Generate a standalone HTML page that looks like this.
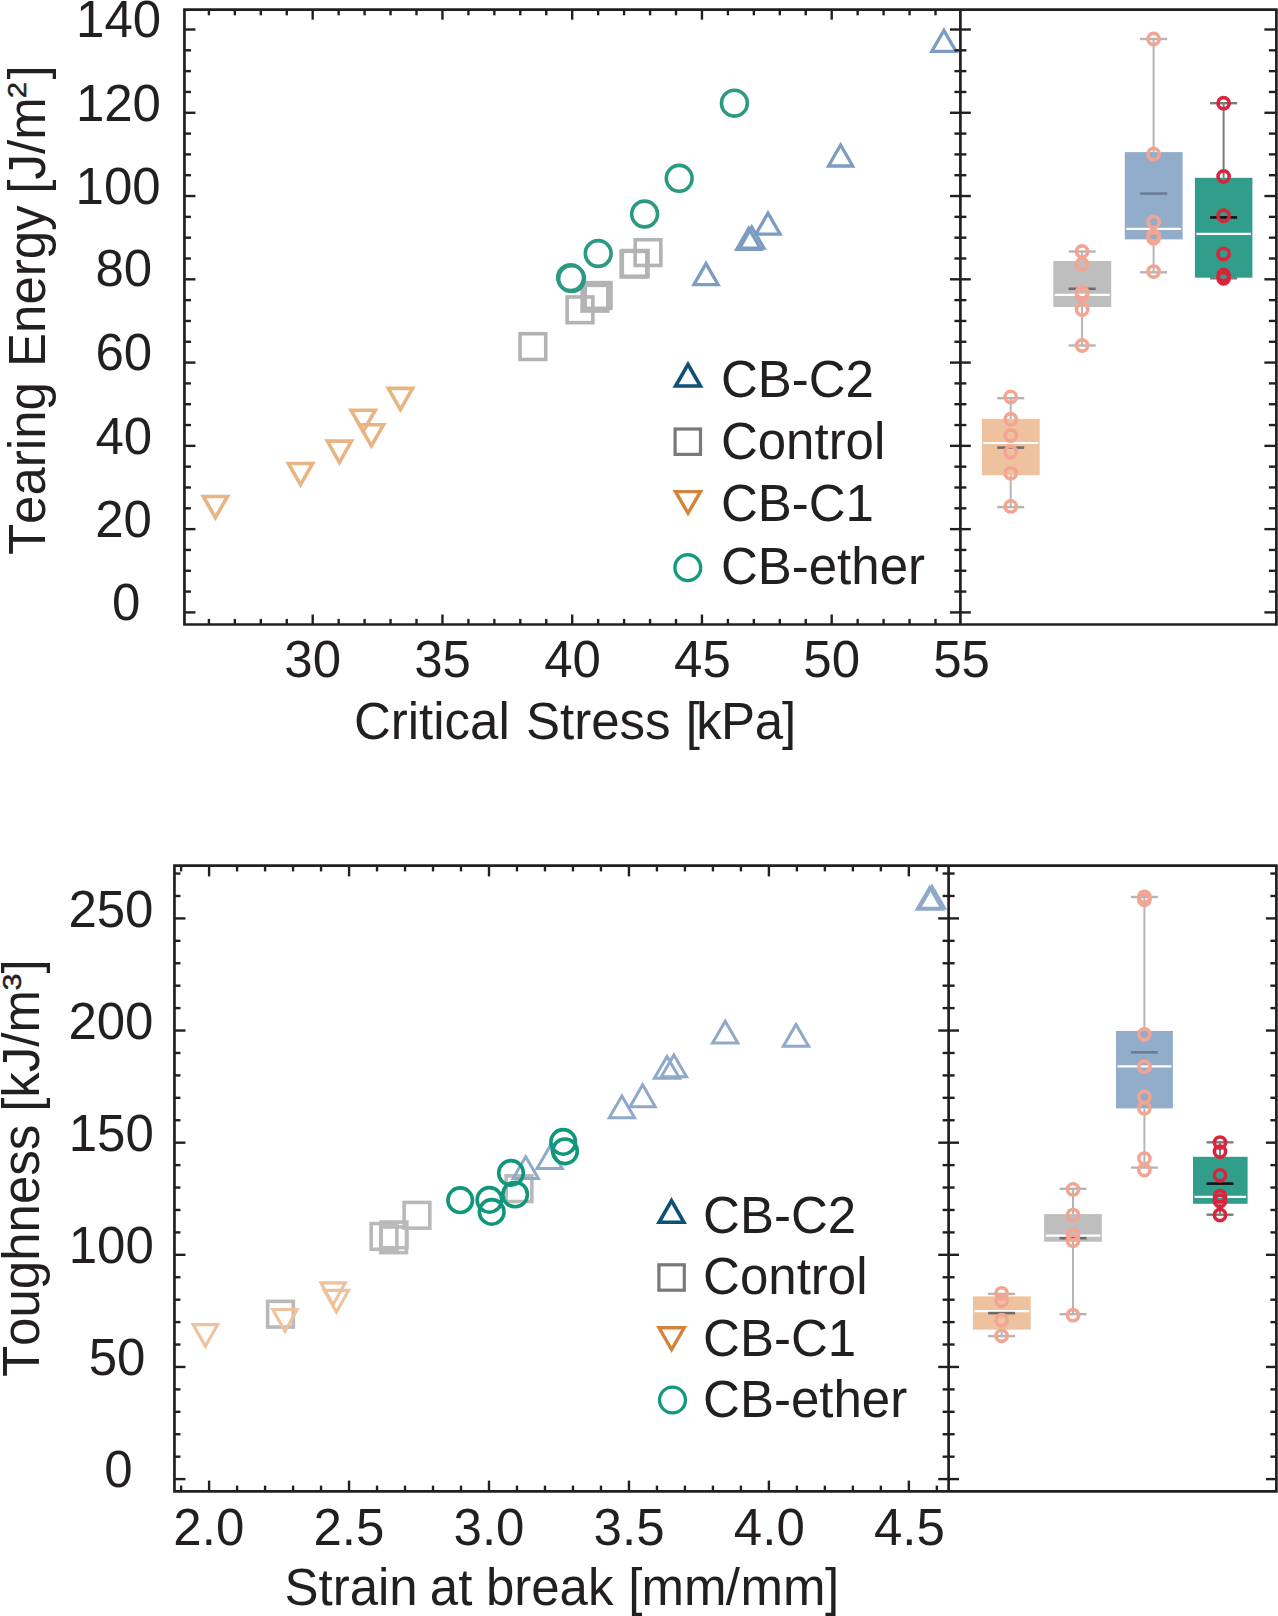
<!DOCTYPE html>
<html><head><meta charset="utf-8"><style>
html,body{margin:0;padding:0;background:#fff;overflow:hidden;width:1278px;height:1616px;}
svg{display:block;}
text{font-family:"Liberation Sans",sans-serif;fill:#231f20;font-kerning:none;}
</style></head><body>
<svg width="1278" height="1616" viewBox="0 0 1278 1616">
<rect width="1278" height="1616" fill="#fff"/>
<line x1="1010.70" y1="398.20" x2="1010.70" y2="418.80" stroke="#b5b5b8" stroke-width="2.0" />
<line x1="1010.70" y1="475.20" x2="1010.70" y2="507.10" stroke="#b5b5b8" stroke-width="2.0" />
<line x1="997.20" y1="398.20" x2="1024.20" y2="398.20" stroke="#b5b5b8" stroke-width="2.4" />
<line x1="997.20" y1="507.10" x2="1024.20" y2="507.10" stroke="#b5b5b8" stroke-width="2.4" />
<rect x="981.90" y="418.80" width="57.80" height="56.40" fill="#eec29e"/>
<line x1="983.40" y1="443.00" x2="1038.20" y2="443.00" stroke="#ffffff" stroke-width="2.2" />
<line x1="997.20" y1="447.60" x2="1024.20" y2="447.60" stroke="#6c6a6b" stroke-width="2.6" />
<circle cx="1010.70" cy="396.90" r="5.60" fill="none" stroke="#f3a593" stroke-width="3.6" stroke-opacity="1"/>
<circle cx="1010.70" cy="419.20" r="5.60" fill="none" stroke="#f3a593" stroke-width="3.6" stroke-opacity="1"/>
<circle cx="1010.70" cy="435.50" r="5.60" fill="none" stroke="#f3a593" stroke-width="3.6" stroke-opacity="1"/>
<circle cx="1010.70" cy="452.00" r="5.60" fill="none" stroke="#f3a593" stroke-width="3.6" stroke-opacity="1"/>
<circle cx="1010.70" cy="473.30" r="5.60" fill="none" stroke="#f3a593" stroke-width="3.6" stroke-opacity="1"/>
<circle cx="1010.70" cy="506.40" r="5.60" fill="none" stroke="#f3a593" stroke-width="3.6" stroke-opacity="1"/>
<line x1="1082.10" y1="251.50" x2="1082.10" y2="261.00" stroke="#b5b5b8" stroke-width="2.0" />
<line x1="1082.10" y1="307.00" x2="1082.10" y2="345.50" stroke="#b5b5b8" stroke-width="2.0" />
<line x1="1068.60" y1="251.50" x2="1095.60" y2="251.50" stroke="#b5b5b8" stroke-width="2.4" />
<line x1="1068.60" y1="345.50" x2="1095.60" y2="345.50" stroke="#b5b5b8" stroke-width="2.4" />
<rect x="1053.30" y="261.00" width="57.90" height="46.00" fill="#bebebe"/>
<line x1="1054.80" y1="294.80" x2="1109.70" y2="294.80" stroke="#ffffff" stroke-width="2.2" />
<line x1="1068.60" y1="288.80" x2="1095.60" y2="288.80" stroke="#6c6a6b" stroke-width="2.6" />
<circle cx="1082.10" cy="251.50" r="5.60" fill="none" stroke="#f3a593" stroke-width="3.6" stroke-opacity="1"/>
<circle cx="1082.10" cy="264.20" r="5.60" fill="none" stroke="#f3a593" stroke-width="3.6" stroke-opacity="1"/>
<circle cx="1082.10" cy="292.50" r="5.60" fill="none" stroke="#f3a593" stroke-width="3.6" stroke-opacity="1"/>
<circle cx="1082.10" cy="295.30" r="5.60" fill="none" stroke="#f3a593" stroke-width="3.6" stroke-opacity="1"/>
<circle cx="1082.10" cy="309.50" r="5.60" fill="none" stroke="#f3a593" stroke-width="3.6" stroke-opacity="1"/>
<circle cx="1082.10" cy="345.50" r="5.60" fill="none" stroke="#f3a593" stroke-width="3.6" stroke-opacity="1"/>
<line x1="1153.60" y1="39.00" x2="1153.60" y2="152.10" stroke="#b5b5b8" stroke-width="2.0" />
<line x1="1153.60" y1="239.40" x2="1153.60" y2="272.30" stroke="#b5b5b8" stroke-width="2.0" />
<line x1="1140.10" y1="39.00" x2="1167.10" y2="39.00" stroke="#b5b5b8" stroke-width="2.4" />
<line x1="1140.10" y1="272.30" x2="1167.10" y2="272.30" stroke="#b5b5b8" stroke-width="2.4" />
<rect x="1124.80" y="152.10" width="57.80" height="87.30" fill="#91adca"/>
<line x1="1126.30" y1="228.90" x2="1181.10" y2="228.90" stroke="#ffffff" stroke-width="2.2" />
<line x1="1140.10" y1="193.60" x2="1167.10" y2="193.60" stroke="#6b7d93" stroke-width="2.6" />
<circle cx="1153.60" cy="39.00" r="5.60" fill="none" stroke="#f3a593" stroke-width="3.6" stroke-opacity="1"/>
<circle cx="1153.60" cy="154.00" r="5.60" fill="none" stroke="#f3a593" stroke-width="3.6" stroke-opacity="1"/>
<circle cx="1153.60" cy="222.00" r="5.60" fill="none" stroke="#f3a593" stroke-width="3.6" stroke-opacity="1"/>
<circle cx="1153.60" cy="235.60" r="5.60" fill="none" stroke="#f3a593" stroke-width="3.6" stroke-opacity="1"/>
<circle cx="1153.60" cy="238.20" r="5.60" fill="none" stroke="#f3a593" stroke-width="3.6" stroke-opacity="1"/>
<circle cx="1153.60" cy="271.60" r="5.60" fill="none" stroke="#f3a593" stroke-width="3.6" stroke-opacity="1"/>
<line x1="1223.60" y1="103.20" x2="1223.60" y2="177.80" stroke="#7b7b7b" stroke-width="2.0" />
<line x1="1223.60" y1="277.70" x2="1223.60" y2="278.30" stroke="#7b7b7b" stroke-width="2.0" />
<line x1="1210.10" y1="103.20" x2="1237.10" y2="103.20" stroke="#7b7b7b" stroke-width="2.4" />
<line x1="1210.10" y1="278.30" x2="1237.10" y2="278.30" stroke="#7b7b7b" stroke-width="2.4" />
<rect x="1194.90" y="177.80" width="57.50" height="99.90" fill="#319d8b"/>
<line x1="1196.40" y1="233.90" x2="1250.90" y2="233.90" stroke="#ffffff" stroke-width="2.2" />
<line x1="1210.10" y1="217.40" x2="1237.10" y2="217.40" stroke="#111111" stroke-width="2.6" />
<circle cx="1223.60" cy="103.20" r="5.60" fill="none" stroke="#d9253b" stroke-width="3.6" stroke-opacity="1"/>
<circle cx="1223.60" cy="176.50" r="5.60" fill="none" stroke="#d9253b" stroke-width="3.6" stroke-opacity="1"/>
<circle cx="1223.60" cy="215.70" r="5.60" fill="none" stroke="#d9253b" stroke-width="3.6" stroke-opacity="1"/>
<circle cx="1223.60" cy="253.90" r="5.60" fill="none" stroke="#d9253b" stroke-width="3.6" stroke-opacity="1"/>
<circle cx="1223.60" cy="275.20" r="5.60" fill="none" stroke="#d9253b" stroke-width="3.6" stroke-opacity="1"/>
<circle cx="1223.60" cy="278.30" r="5.60" fill="none" stroke="#d9253b" stroke-width="3.6" stroke-opacity="1"/>
<path d="M215.40,521.30L230.60,494.70L200.20,494.70Z M215.40,514.04L224.40,498.30L206.40,498.30Z" fill="#e8b482" fill-rule="evenodd" fill-opacity="1"/>
<path d="M300.50,488.30L315.70,461.70L285.30,461.70Z M300.50,481.04L309.50,465.30L291.50,465.30Z" fill="#e8b482" fill-rule="evenodd" fill-opacity="1"/>
<path d="M339.40,465.90L354.60,439.30L324.20,439.30Z M339.40,458.64L348.40,442.90L330.40,442.90Z" fill="#e8b482" fill-rule="evenodd" fill-opacity="1"/>
<path d="M371.40,449.50L386.60,422.90L356.20,422.90Z M371.40,442.24L380.40,426.50L362.40,426.50Z" fill="#e8b482" fill-rule="evenodd" fill-opacity="1"/>
<path d="M363.20,435.10L378.40,408.50L348.00,408.50Z M363.20,427.84L372.20,412.10L354.20,412.10Z" fill="#e8b482" fill-rule="evenodd" fill-opacity="1"/>
<path d="M400.40,413.20L415.60,386.60L385.20,386.60Z M400.40,405.94L409.40,390.20L391.40,390.20Z" fill="#e8b482" fill-rule="evenodd" fill-opacity="1"/>
<rect x="520.05" y="333.75" width="25.70" height="25.70" fill="none" stroke="#b3b3b3" stroke-width="3.6" stroke-opacity="1"/>
<rect x="567.15" y="296.95" width="25.70" height="25.70" fill="none" stroke="#b3b3b3" stroke-width="3.6" stroke-opacity="1"/>
<rect x="582.15" y="285.35" width="25.70" height="25.70" fill="none" stroke="#b3b3b3" stroke-width="3.6" stroke-opacity="1"/>
<rect x="585.25" y="282.65" width="25.70" height="25.70" fill="none" stroke="#b3b3b3" stroke-width="3.6" stroke-opacity="1"/>
<rect x="621.15" y="251.35" width="25.70" height="25.70" fill="none" stroke="#b3b3b3" stroke-width="3.6" stroke-opacity="1"/>
<rect x="622.35" y="250.55" width="25.70" height="25.70" fill="none" stroke="#b3b3b3" stroke-width="3.6" stroke-opacity="1"/>
<rect x="635.15" y="239.75" width="25.70" height="25.70" fill="none" stroke="#b3b3b3" stroke-width="3.6" stroke-opacity="1"/>
<circle cx="734.40" cy="103.20" r="12.90" fill="none" stroke="#2a9a82" stroke-width="3.6" stroke-opacity="1"/>
<circle cx="679.20" cy="178.30" r="12.90" fill="none" stroke="#2a9a82" stroke-width="3.6" stroke-opacity="1"/>
<circle cx="644.60" cy="214.00" r="12.90" fill="none" stroke="#2a9a82" stroke-width="3.6" stroke-opacity="1"/>
<circle cx="598.20" cy="253.50" r="12.90" fill="none" stroke="#2a9a82" stroke-width="3.6" stroke-opacity="1"/>
<circle cx="570.60" cy="277.60" r="12.90" fill="none" stroke="#2a9a82" stroke-width="3.6" stroke-opacity="1"/>
<circle cx="571.50" cy="278.60" r="12.90" fill="none" stroke="#2a9a82" stroke-width="3.6" stroke-opacity="1"/>
<path d="M943.90,27.05L958.85,53.05L928.95,53.05Z M943.90,33.67L953.15,49.75L934.65,49.75Z" fill="#7c9cc1" fill-rule="evenodd" fill-opacity="1"/>
<path d="M840.60,141.65L855.55,167.65L825.65,167.65Z M840.60,148.27L849.85,164.35L831.35,164.35Z" fill="#7c9cc1" fill-rule="evenodd" fill-opacity="1"/>
<path d="M768.00,209.80L782.95,235.80L753.05,235.80Z M768.00,216.42L777.25,232.50L758.75,232.50Z" fill="#7c9cc1" fill-rule="evenodd" fill-opacity="1"/>
<path d="M748.80,225.05L763.75,251.05L733.85,251.05Z M748.80,231.67L758.05,247.75L739.55,247.75Z" fill="#7c9cc1" fill-rule="evenodd" fill-opacity="1"/>
<path d="M751.80,223.75L766.75,249.75L736.85,249.75Z M751.80,230.37L761.05,246.45L742.55,246.45Z" fill="#7c9cc1" fill-rule="evenodd" fill-opacity="1"/>
<path d="M706.00,260.30L720.95,286.30L691.05,286.30Z M706.00,266.92L715.25,283.00L696.75,283.00Z" fill="#7c9cc1" fill-rule="evenodd" fill-opacity="1"/>
<path d="M184.45,9.7H1276.4V624.5H184.45Z" fill="none" stroke="#231f20" stroke-width="2.7"/>
<line x1="960.40" y1="9.70" x2="960.40" y2="624.50" stroke="#231f20" stroke-width="2.7" />
<line x1="184.45" y1="612.40" x2="195.45" y2="612.40" stroke="#231f20" stroke-width="2.4" />
<line x1="950.00" y1="612.40" x2="970.80" y2="612.40" stroke="#231f20" stroke-width="2.4" />
<line x1="1264.40" y1="612.40" x2="1276.40" y2="612.40" stroke="#231f20" stroke-width="2.4" />
<line x1="184.45" y1="591.58" x2="190.95" y2="591.58" stroke="#231f20" stroke-width="2.4" />
<line x1="954.40" y1="591.58" x2="966.40" y2="591.58" stroke="#231f20" stroke-width="2.4" />
<line x1="1268.90" y1="591.58" x2="1276.40" y2="591.58" stroke="#231f20" stroke-width="2.4" />
<line x1="184.45" y1="570.76" x2="190.95" y2="570.76" stroke="#231f20" stroke-width="2.4" />
<line x1="954.40" y1="570.76" x2="966.40" y2="570.76" stroke="#231f20" stroke-width="2.4" />
<line x1="1268.90" y1="570.76" x2="1276.40" y2="570.76" stroke="#231f20" stroke-width="2.4" />
<line x1="184.45" y1="549.95" x2="190.95" y2="549.95" stroke="#231f20" stroke-width="2.4" />
<line x1="954.40" y1="549.95" x2="966.40" y2="549.95" stroke="#231f20" stroke-width="2.4" />
<line x1="1268.90" y1="549.95" x2="1276.40" y2="549.95" stroke="#231f20" stroke-width="2.4" />
<line x1="184.45" y1="529.13" x2="195.45" y2="529.13" stroke="#231f20" stroke-width="2.4" />
<line x1="950.00" y1="529.13" x2="970.80" y2="529.13" stroke="#231f20" stroke-width="2.4" />
<line x1="1264.40" y1="529.13" x2="1276.40" y2="529.13" stroke="#231f20" stroke-width="2.4" />
<line x1="184.45" y1="508.31" x2="190.95" y2="508.31" stroke="#231f20" stroke-width="2.4" />
<line x1="954.40" y1="508.31" x2="966.40" y2="508.31" stroke="#231f20" stroke-width="2.4" />
<line x1="1268.90" y1="508.31" x2="1276.40" y2="508.31" stroke="#231f20" stroke-width="2.4" />
<line x1="184.45" y1="487.49" x2="190.95" y2="487.49" stroke="#231f20" stroke-width="2.4" />
<line x1="954.40" y1="487.49" x2="966.40" y2="487.49" stroke="#231f20" stroke-width="2.4" />
<line x1="1268.90" y1="487.49" x2="1276.40" y2="487.49" stroke="#231f20" stroke-width="2.4" />
<line x1="184.45" y1="466.67" x2="190.95" y2="466.67" stroke="#231f20" stroke-width="2.4" />
<line x1="954.40" y1="466.67" x2="966.40" y2="466.67" stroke="#231f20" stroke-width="2.4" />
<line x1="1268.90" y1="466.67" x2="1276.40" y2="466.67" stroke="#231f20" stroke-width="2.4" />
<line x1="184.45" y1="445.86" x2="195.45" y2="445.86" stroke="#231f20" stroke-width="2.4" />
<line x1="950.00" y1="445.86" x2="970.80" y2="445.86" stroke="#231f20" stroke-width="2.4" />
<line x1="1264.40" y1="445.86" x2="1276.40" y2="445.86" stroke="#231f20" stroke-width="2.4" />
<line x1="184.45" y1="425.04" x2="190.95" y2="425.04" stroke="#231f20" stroke-width="2.4" />
<line x1="954.40" y1="425.04" x2="966.40" y2="425.04" stroke="#231f20" stroke-width="2.4" />
<line x1="1268.90" y1="425.04" x2="1276.40" y2="425.04" stroke="#231f20" stroke-width="2.4" />
<line x1="184.45" y1="404.22" x2="190.95" y2="404.22" stroke="#231f20" stroke-width="2.4" />
<line x1="954.40" y1="404.22" x2="966.40" y2="404.22" stroke="#231f20" stroke-width="2.4" />
<line x1="1268.90" y1="404.22" x2="1276.40" y2="404.22" stroke="#231f20" stroke-width="2.4" />
<line x1="184.45" y1="383.40" x2="190.95" y2="383.40" stroke="#231f20" stroke-width="2.4" />
<line x1="954.40" y1="383.40" x2="966.40" y2="383.40" stroke="#231f20" stroke-width="2.4" />
<line x1="1268.90" y1="383.40" x2="1276.40" y2="383.40" stroke="#231f20" stroke-width="2.4" />
<line x1="184.45" y1="362.58" x2="195.45" y2="362.58" stroke="#231f20" stroke-width="2.4" />
<line x1="950.00" y1="362.58" x2="970.80" y2="362.58" stroke="#231f20" stroke-width="2.4" />
<line x1="1264.40" y1="362.58" x2="1276.40" y2="362.58" stroke="#231f20" stroke-width="2.4" />
<line x1="184.45" y1="341.77" x2="190.95" y2="341.77" stroke="#231f20" stroke-width="2.4" />
<line x1="954.40" y1="341.77" x2="966.40" y2="341.77" stroke="#231f20" stroke-width="2.4" />
<line x1="1268.90" y1="341.77" x2="1276.40" y2="341.77" stroke="#231f20" stroke-width="2.4" />
<line x1="184.45" y1="320.95" x2="190.95" y2="320.95" stroke="#231f20" stroke-width="2.4" />
<line x1="954.40" y1="320.95" x2="966.40" y2="320.95" stroke="#231f20" stroke-width="2.4" />
<line x1="1268.90" y1="320.95" x2="1276.40" y2="320.95" stroke="#231f20" stroke-width="2.4" />
<line x1="184.45" y1="300.13" x2="190.95" y2="300.13" stroke="#231f20" stroke-width="2.4" />
<line x1="954.40" y1="300.13" x2="966.40" y2="300.13" stroke="#231f20" stroke-width="2.4" />
<line x1="1268.90" y1="300.13" x2="1276.40" y2="300.13" stroke="#231f20" stroke-width="2.4" />
<line x1="184.45" y1="279.31" x2="195.45" y2="279.31" stroke="#231f20" stroke-width="2.4" />
<line x1="950.00" y1="279.31" x2="970.80" y2="279.31" stroke="#231f20" stroke-width="2.4" />
<line x1="1264.40" y1="279.31" x2="1276.40" y2="279.31" stroke="#231f20" stroke-width="2.4" />
<line x1="184.45" y1="258.49" x2="190.95" y2="258.49" stroke="#231f20" stroke-width="2.4" />
<line x1="954.40" y1="258.49" x2="966.40" y2="258.49" stroke="#231f20" stroke-width="2.4" />
<line x1="1268.90" y1="258.49" x2="1276.40" y2="258.49" stroke="#231f20" stroke-width="2.4" />
<line x1="184.45" y1="237.68" x2="190.95" y2="237.68" stroke="#231f20" stroke-width="2.4" />
<line x1="954.40" y1="237.68" x2="966.40" y2="237.68" stroke="#231f20" stroke-width="2.4" />
<line x1="1268.90" y1="237.68" x2="1276.40" y2="237.68" stroke="#231f20" stroke-width="2.4" />
<line x1="184.45" y1="216.86" x2="190.95" y2="216.86" stroke="#231f20" stroke-width="2.4" />
<line x1="954.40" y1="216.86" x2="966.40" y2="216.86" stroke="#231f20" stroke-width="2.4" />
<line x1="1268.90" y1="216.86" x2="1276.40" y2="216.86" stroke="#231f20" stroke-width="2.4" />
<line x1="184.45" y1="196.04" x2="195.45" y2="196.04" stroke="#231f20" stroke-width="2.4" />
<line x1="950.00" y1="196.04" x2="970.80" y2="196.04" stroke="#231f20" stroke-width="2.4" />
<line x1="1264.40" y1="196.04" x2="1276.40" y2="196.04" stroke="#231f20" stroke-width="2.4" />
<line x1="184.45" y1="175.22" x2="190.95" y2="175.22" stroke="#231f20" stroke-width="2.4" />
<line x1="954.40" y1="175.22" x2="966.40" y2="175.22" stroke="#231f20" stroke-width="2.4" />
<line x1="1268.90" y1="175.22" x2="1276.40" y2="175.22" stroke="#231f20" stroke-width="2.4" />
<line x1="184.45" y1="154.40" x2="190.95" y2="154.40" stroke="#231f20" stroke-width="2.4" />
<line x1="954.40" y1="154.40" x2="966.40" y2="154.40" stroke="#231f20" stroke-width="2.4" />
<line x1="1268.90" y1="154.40" x2="1276.40" y2="154.40" stroke="#231f20" stroke-width="2.4" />
<line x1="184.45" y1="133.59" x2="190.95" y2="133.59" stroke="#231f20" stroke-width="2.4" />
<line x1="954.40" y1="133.59" x2="966.40" y2="133.59" stroke="#231f20" stroke-width="2.4" />
<line x1="1268.90" y1="133.59" x2="1276.40" y2="133.59" stroke="#231f20" stroke-width="2.4" />
<line x1="184.45" y1="112.77" x2="195.45" y2="112.77" stroke="#231f20" stroke-width="2.4" />
<line x1="950.00" y1="112.77" x2="970.80" y2="112.77" stroke="#231f20" stroke-width="2.4" />
<line x1="1264.40" y1="112.77" x2="1276.40" y2="112.77" stroke="#231f20" stroke-width="2.4" />
<line x1="184.45" y1="91.95" x2="190.95" y2="91.95" stroke="#231f20" stroke-width="2.4" />
<line x1="954.40" y1="91.95" x2="966.40" y2="91.95" stroke="#231f20" stroke-width="2.4" />
<line x1="1268.90" y1="91.95" x2="1276.40" y2="91.95" stroke="#231f20" stroke-width="2.4" />
<line x1="184.45" y1="71.13" x2="190.95" y2="71.13" stroke="#231f20" stroke-width="2.4" />
<line x1="954.40" y1="71.13" x2="966.40" y2="71.13" stroke="#231f20" stroke-width="2.4" />
<line x1="1268.90" y1="71.13" x2="1276.40" y2="71.13" stroke="#231f20" stroke-width="2.4" />
<line x1="184.45" y1="50.31" x2="190.95" y2="50.31" stroke="#231f20" stroke-width="2.4" />
<line x1="954.40" y1="50.31" x2="966.40" y2="50.31" stroke="#231f20" stroke-width="2.4" />
<line x1="1268.90" y1="50.31" x2="1276.40" y2="50.31" stroke="#231f20" stroke-width="2.4" />
<line x1="184.45" y1="29.50" x2="195.45" y2="29.50" stroke="#231f20" stroke-width="2.4" />
<line x1="950.00" y1="29.50" x2="970.80" y2="29.50" stroke="#231f20" stroke-width="2.4" />
<line x1="1264.40" y1="29.50" x2="1276.40" y2="29.50" stroke="#231f20" stroke-width="2.4" />
<line x1="208.90" y1="624.50" x2="208.90" y2="618.90" stroke="#231f20" stroke-width="2.4" />
<line x1="208.90" y1="9.70" x2="208.90" y2="15.30" stroke="#231f20" stroke-width="2.4" />
<line x1="234.85" y1="624.50" x2="234.85" y2="618.90" stroke="#231f20" stroke-width="2.4" />
<line x1="234.85" y1="9.70" x2="234.85" y2="15.30" stroke="#231f20" stroke-width="2.4" />
<line x1="260.80" y1="624.50" x2="260.80" y2="618.90" stroke="#231f20" stroke-width="2.4" />
<line x1="260.80" y1="9.70" x2="260.80" y2="15.30" stroke="#231f20" stroke-width="2.4" />
<line x1="286.75" y1="624.50" x2="286.75" y2="618.90" stroke="#231f20" stroke-width="2.4" />
<line x1="286.75" y1="9.70" x2="286.75" y2="15.30" stroke="#231f20" stroke-width="2.4" />
<line x1="312.70" y1="624.50" x2="312.70" y2="614.50" stroke="#231f20" stroke-width="2.4" />
<line x1="312.70" y1="9.70" x2="312.70" y2="19.70" stroke="#231f20" stroke-width="2.4" />
<line x1="338.65" y1="624.50" x2="338.65" y2="618.90" stroke="#231f20" stroke-width="2.4" />
<line x1="338.65" y1="9.70" x2="338.65" y2="15.30" stroke="#231f20" stroke-width="2.4" />
<line x1="364.60" y1="624.50" x2="364.60" y2="618.90" stroke="#231f20" stroke-width="2.4" />
<line x1="364.60" y1="9.70" x2="364.60" y2="15.30" stroke="#231f20" stroke-width="2.4" />
<line x1="390.55" y1="624.50" x2="390.55" y2="618.90" stroke="#231f20" stroke-width="2.4" />
<line x1="390.55" y1="9.70" x2="390.55" y2="15.30" stroke="#231f20" stroke-width="2.4" />
<line x1="416.50" y1="624.50" x2="416.50" y2="618.90" stroke="#231f20" stroke-width="2.4" />
<line x1="416.50" y1="9.70" x2="416.50" y2="15.30" stroke="#231f20" stroke-width="2.4" />
<line x1="442.45" y1="624.50" x2="442.45" y2="614.50" stroke="#231f20" stroke-width="2.4" />
<line x1="442.45" y1="9.70" x2="442.45" y2="19.70" stroke="#231f20" stroke-width="2.4" />
<line x1="468.40" y1="624.50" x2="468.40" y2="618.90" stroke="#231f20" stroke-width="2.4" />
<line x1="468.40" y1="9.70" x2="468.40" y2="15.30" stroke="#231f20" stroke-width="2.4" />
<line x1="494.35" y1="624.50" x2="494.35" y2="618.90" stroke="#231f20" stroke-width="2.4" />
<line x1="494.35" y1="9.70" x2="494.35" y2="15.30" stroke="#231f20" stroke-width="2.4" />
<line x1="520.30" y1="624.50" x2="520.30" y2="618.90" stroke="#231f20" stroke-width="2.4" />
<line x1="520.30" y1="9.70" x2="520.30" y2="15.30" stroke="#231f20" stroke-width="2.4" />
<line x1="546.25" y1="624.50" x2="546.25" y2="618.90" stroke="#231f20" stroke-width="2.4" />
<line x1="546.25" y1="9.70" x2="546.25" y2="15.30" stroke="#231f20" stroke-width="2.4" />
<line x1="572.20" y1="624.50" x2="572.20" y2="614.50" stroke="#231f20" stroke-width="2.4" />
<line x1="572.20" y1="9.70" x2="572.20" y2="19.70" stroke="#231f20" stroke-width="2.4" />
<line x1="598.15" y1="624.50" x2="598.15" y2="618.90" stroke="#231f20" stroke-width="2.4" />
<line x1="598.15" y1="9.70" x2="598.15" y2="15.30" stroke="#231f20" stroke-width="2.4" />
<line x1="624.10" y1="624.50" x2="624.10" y2="618.90" stroke="#231f20" stroke-width="2.4" />
<line x1="624.10" y1="9.70" x2="624.10" y2="15.30" stroke="#231f20" stroke-width="2.4" />
<line x1="650.05" y1="624.50" x2="650.05" y2="618.90" stroke="#231f20" stroke-width="2.4" />
<line x1="650.05" y1="9.70" x2="650.05" y2="15.30" stroke="#231f20" stroke-width="2.4" />
<line x1="676.00" y1="624.50" x2="676.00" y2="618.90" stroke="#231f20" stroke-width="2.4" />
<line x1="676.00" y1="9.70" x2="676.00" y2="15.30" stroke="#231f20" stroke-width="2.4" />
<line x1="701.95" y1="624.50" x2="701.95" y2="614.50" stroke="#231f20" stroke-width="2.4" />
<line x1="701.95" y1="9.70" x2="701.95" y2="19.70" stroke="#231f20" stroke-width="2.4" />
<line x1="727.90" y1="624.50" x2="727.90" y2="618.90" stroke="#231f20" stroke-width="2.4" />
<line x1="727.90" y1="9.70" x2="727.90" y2="15.30" stroke="#231f20" stroke-width="2.4" />
<line x1="753.85" y1="624.50" x2="753.85" y2="618.90" stroke="#231f20" stroke-width="2.4" />
<line x1="753.85" y1="9.70" x2="753.85" y2="15.30" stroke="#231f20" stroke-width="2.4" />
<line x1="779.80" y1="624.50" x2="779.80" y2="618.90" stroke="#231f20" stroke-width="2.4" />
<line x1="779.80" y1="9.70" x2="779.80" y2="15.30" stroke="#231f20" stroke-width="2.4" />
<line x1="805.75" y1="624.50" x2="805.75" y2="618.90" stroke="#231f20" stroke-width="2.4" />
<line x1="805.75" y1="9.70" x2="805.75" y2="15.30" stroke="#231f20" stroke-width="2.4" />
<line x1="831.70" y1="624.50" x2="831.70" y2="614.50" stroke="#231f20" stroke-width="2.4" />
<line x1="831.70" y1="9.70" x2="831.70" y2="19.70" stroke="#231f20" stroke-width="2.4" />
<line x1="857.65" y1="624.50" x2="857.65" y2="618.90" stroke="#231f20" stroke-width="2.4" />
<line x1="857.65" y1="9.70" x2="857.65" y2="15.30" stroke="#231f20" stroke-width="2.4" />
<line x1="883.60" y1="624.50" x2="883.60" y2="618.90" stroke="#231f20" stroke-width="2.4" />
<line x1="883.60" y1="9.70" x2="883.60" y2="15.30" stroke="#231f20" stroke-width="2.4" />
<line x1="909.55" y1="624.50" x2="909.55" y2="618.90" stroke="#231f20" stroke-width="2.4" />
<line x1="909.55" y1="9.70" x2="909.55" y2="15.30" stroke="#231f20" stroke-width="2.4" />
<line x1="935.50" y1="624.50" x2="935.50" y2="618.90" stroke="#231f20" stroke-width="2.4" />
<line x1="935.50" y1="9.70" x2="935.50" y2="15.30" stroke="#231f20" stroke-width="2.4" />
<text x="76.10" y="36.60" font-size="51">140</text>
<text x="75.90" y="120.60" font-size="51">120</text>
<text x="75.60" y="204.10" font-size="51">100</text>
<text x="95.46" y="286.20" font-size="51">80</text>
<text x="95.46" y="369.80" font-size="51">60</text>
<text x="95.46" y="453.60" font-size="51">40</text>
<text x="95.26" y="536.70" font-size="51">20</text>
<text x="111.93" y="619.70" font-size="51">0</text>
<text x="284.36" y="677.30" font-size="51">30</text>
<text x="414.19" y="677.30" font-size="51">35</text>
<text x="544.25" y="677.30" font-size="51">40</text>
<text x="674.07" y="677.30" font-size="51">45</text>
<text x="803.31" y="677.30" font-size="51">50</text>
<text x="933.14" y="677.30" font-size="51">55</text>
<text x="353.91" y="739.30" font-size="51" >Critical</text>
<text x="525.98" y="739.30" font-size="51" >Stress</text>
<text x="685.76" y="739.30" font-size="51" >[</text>
<text x="696.16" y="739.30" font-size="51" >k</text>
<text x="720.92" y="739.30" font-size="51" >P</text>
<text x="754.83" y="739.30" font-size="51" >a</text>
<text x="781.90" y="739.30" font-size="51" >]</text>
<g transform="translate(45.0,553.9) rotate(-90)"><text x="-1.15" y="0" font-size="51">Tearing</text><text x="186.92" y="0" font-size="51">Energy</text><text x="360.26" y="0" font-size="51">[J/m</text><text x="474.50" y="0" font-size="51">]</text><text transform="scale(1.15,1)" x="396.28" y="-19.3" font-size="25.5" stroke="#231f20" stroke-width="0.5">2</text></g>
<path d="M688.00,360.80L703.50,387.80L672.50,387.80Z M688.00,368.03L697.28,384.20L678.72,384.20Z" fill="#0e5078" fill-rule="evenodd" fill-opacity="1"/>
<rect x="675.10" y="429.00" width="25.40" height="25.40" fill="none" stroke="#79797b" stroke-width="3.2" stroke-opacity="1"/>
<path d="M688.00,516.50L703.50,489.90L672.50,489.90Z M688.00,509.75L697.58,493.30L678.42,493.30Z" fill="#d4843a" fill-rule="evenodd" fill-opacity="1"/>
<circle cx="687.80" cy="567.65" r="12.90" fill="none" stroke="#129a7f" stroke-width="3.3" stroke-opacity="1"/>
<text x="720.91" y="396.90" font-size="51" >CB-C2</text>
<text x="720.91" y="459.40" font-size="51" >Control</text>
<text x="720.91" y="521.00" font-size="51" >CB-C1</text>
<text x="720.91" y="584.30" font-size="51" >CB-ether</text>
<line x1="1001.60" y1="1293.90" x2="1001.60" y2="1296.40" stroke="#b5b5b8" stroke-width="2.0" />
<line x1="1001.60" y1="1329.60" x2="1001.60" y2="1336.10" stroke="#b5b5b8" stroke-width="2.0" />
<line x1="988.10" y1="1293.90" x2="1015.10" y2="1293.90" stroke="#b5b5b8" stroke-width="2.4" />
<line x1="988.10" y1="1336.10" x2="1015.10" y2="1336.10" stroke="#b5b5b8" stroke-width="2.4" />
<rect x="972.90" y="1296.40" width="57.80" height="33.20" fill="#eec29e"/>
<line x1="974.40" y1="1311.20" x2="1029.20" y2="1311.20" stroke="#ffffff" stroke-width="2.2" />
<line x1="988.10" y1="1313.10" x2="1015.10" y2="1313.10" stroke="#6c6a6b" stroke-width="2.6" />
<circle cx="1001.60" cy="1293.30" r="5.60" fill="none" stroke="#f3a593" stroke-width="3.6" stroke-opacity="1"/>
<circle cx="1001.60" cy="1300.80" r="5.60" fill="none" stroke="#f3a593" stroke-width="3.6" stroke-opacity="1"/>
<circle cx="1001.60" cy="1320.20" r="5.60" fill="none" stroke="#f3a593" stroke-width="3.6" stroke-opacity="1"/>
<circle cx="1001.60" cy="1335.80" r="5.60" fill="none" stroke="#f3a593" stroke-width="3.6" stroke-opacity="1"/>
<line x1="1073.00" y1="1188.80" x2="1073.00" y2="1214.10" stroke="#b5b5b8" stroke-width="2.0" />
<line x1="1073.00" y1="1241.70" x2="1073.00" y2="1314.20" stroke="#b5b5b8" stroke-width="2.0" />
<line x1="1059.50" y1="1188.80" x2="1086.50" y2="1188.80" stroke="#b5b5b8" stroke-width="2.4" />
<line x1="1059.50" y1="1314.20" x2="1086.50" y2="1314.20" stroke="#b5b5b8" stroke-width="2.4" />
<rect x="1044.10" y="1214.10" width="57.70" height="27.60" fill="#bebebe"/>
<line x1="1045.60" y1="1235.70" x2="1100.30" y2="1235.70" stroke="#ffffff" stroke-width="2.2" />
<line x1="1059.50" y1="1238.20" x2="1086.50" y2="1238.20" stroke="#6c6a6b" stroke-width="2.6" />
<circle cx="1073.00" cy="1189.40" r="5.60" fill="none" stroke="#f3a593" stroke-width="3.6" stroke-opacity="1"/>
<circle cx="1073.00" cy="1215.10" r="5.60" fill="none" stroke="#f3a593" stroke-width="3.6" stroke-opacity="1"/>
<circle cx="1073.00" cy="1234.50" r="5.60" fill="none" stroke="#f3a593" stroke-width="3.6" stroke-opacity="1"/>
<circle cx="1073.00" cy="1240.70" r="5.60" fill="none" stroke="#f3a593" stroke-width="3.6" stroke-opacity="1"/>
<circle cx="1073.00" cy="1315.20" r="5.60" fill="none" stroke="#f3a593" stroke-width="3.6" stroke-opacity="1"/>
<line x1="1144.40" y1="897.00" x2="1144.40" y2="1031.00" stroke="#b5b5b8" stroke-width="2.0" />
<line x1="1144.40" y1="1108.40" x2="1144.40" y2="1167.60" stroke="#b5b5b8" stroke-width="2.0" />
<line x1="1130.90" y1="897.00" x2="1157.90" y2="897.00" stroke="#b5b5b8" stroke-width="2.4" />
<line x1="1130.90" y1="1167.60" x2="1157.90" y2="1167.60" stroke="#b5b5b8" stroke-width="2.4" />
<rect x="1116.00" y="1031.00" width="56.90" height="77.40" fill="#91adca"/>
<line x1="1117.50" y1="1066.40" x2="1171.40" y2="1066.40" stroke="#ffffff" stroke-width="2.2" />
<line x1="1130.90" y1="1052.30" x2="1157.90" y2="1052.30" stroke="#6b7d93" stroke-width="2.6" />
<circle cx="1144.40" cy="896.80" r="5.60" fill="none" stroke="#f3a593" stroke-width="3.6" stroke-opacity="1"/>
<circle cx="1144.40" cy="899.80" r="5.60" fill="none" stroke="#f3a593" stroke-width="3.6" stroke-opacity="1"/>
<circle cx="1144.40" cy="1034.30" r="5.60" fill="none" stroke="#f3a593" stroke-width="3.6" stroke-opacity="1"/>
<circle cx="1144.40" cy="1066.70" r="5.60" fill="none" stroke="#f3a593" stroke-width="3.6" stroke-opacity="1"/>
<circle cx="1144.40" cy="1097.00" r="5.60" fill="none" stroke="#f3a593" stroke-width="3.6" stroke-opacity="1"/>
<circle cx="1144.40" cy="1108.20" r="5.60" fill="none" stroke="#f3a593" stroke-width="3.6" stroke-opacity="1"/>
<circle cx="1144.40" cy="1158.60" r="5.60" fill="none" stroke="#f3a593" stroke-width="3.6" stroke-opacity="1"/>
<circle cx="1144.40" cy="1170.00" r="5.60" fill="none" stroke="#f3a593" stroke-width="3.6" stroke-opacity="1"/>
<line x1="1220.00" y1="1142.30" x2="1220.00" y2="1156.80" stroke="#7b7b7b" stroke-width="2.0" />
<line x1="1220.00" y1="1203.80" x2="1220.00" y2="1214.70" stroke="#7b7b7b" stroke-width="2.0" />
<line x1="1206.50" y1="1142.30" x2="1233.50" y2="1142.30" stroke="#7b7b7b" stroke-width="2.4" />
<line x1="1206.50" y1="1214.70" x2="1233.50" y2="1214.70" stroke="#7b7b7b" stroke-width="2.4" />
<rect x="1193.00" y="1156.80" width="54.60" height="47.00" fill="#319d8b"/>
<line x1="1194.50" y1="1196.90" x2="1246.10" y2="1196.90" stroke="#ffffff" stroke-width="2.2" />
<line x1="1206.50" y1="1183.60" x2="1233.50" y2="1183.60" stroke="#111111" stroke-width="2.6" />
<circle cx="1220.00" cy="1142.60" r="5.60" fill="none" stroke="#d9253b" stroke-width="3.6" stroke-opacity="1"/>
<circle cx="1220.00" cy="1151.60" r="5.60" fill="none" stroke="#d9253b" stroke-width="3.6" stroke-opacity="1"/>
<circle cx="1220.00" cy="1175.30" r="5.60" fill="none" stroke="#d9253b" stroke-width="3.6" stroke-opacity="1"/>
<circle cx="1220.00" cy="1196.20" r="5.60" fill="none" stroke="#d9253b" stroke-width="3.6" stroke-opacity="1"/>
<circle cx="1220.00" cy="1201.00" r="5.60" fill="none" stroke="#d9253b" stroke-width="3.6" stroke-opacity="1"/>
<circle cx="1220.00" cy="1215.00" r="5.60" fill="none" stroke="#d9253b" stroke-width="3.6" stroke-opacity="1"/>
<rect x="267.65" y="1301.35" width="25.70" height="25.70" fill="none" stroke="#b9b9b9" stroke-width="3.6" stroke-opacity="1"/>
<rect x="371.15" y="1223.55" width="25.70" height="25.70" fill="none" stroke="#b9b9b9" stroke-width="3.6" stroke-opacity="1"/>
<rect x="381.15" y="1222.05" width="25.70" height="25.70" fill="none" stroke="#b9b9b9" stroke-width="3.6" stroke-opacity="1"/>
<rect x="380.75" y="1226.95" width="25.70" height="25.70" fill="none" stroke="#b9b9b9" stroke-width="3.6" stroke-opacity="1"/>
<rect x="404.15" y="1202.45" width="25.70" height="25.70" fill="none" stroke="#b9b9b9" stroke-width="3.6" stroke-opacity="1"/>
<rect x="506.15" y="1175.85" width="25.70" height="25.70" fill="none" stroke="#b9b9b9" stroke-width="3.6" stroke-opacity="1"/>
<path d="M205.40,1349.55L220.25,1323.05L190.55,1323.05Z M205.40,1343.21L214.96,1326.15L195.84,1326.15Z" fill="#eec29c" fill-rule="evenodd" fill-opacity="1"/>
<path d="M285.00,1334.45L299.85,1307.95L270.15,1307.95Z M285.00,1328.11L294.56,1311.05L275.44,1311.05Z" fill="#eec29c" fill-rule="evenodd" fill-opacity="1"/>
<path d="M333.10,1307.80L347.95,1281.30L318.25,1281.30Z M333.10,1301.46L342.66,1284.40L323.54,1284.40Z" fill="#eec29c" fill-rule="evenodd" fill-opacity="1"/>
<path d="M336.40,1315.35L351.25,1288.85L321.55,1288.85Z M336.40,1309.01L345.96,1291.95L326.84,1291.95Z" fill="#eec29c" fill-rule="evenodd" fill-opacity="1"/>
<path d="M525.70,1153.70L540.95,1180.00L510.45,1180.00Z M525.70,1159.68L535.74,1177.00L515.66,1177.00Z" fill="#8fa9c9" fill-rule="evenodd" fill-opacity="1"/>
<path d="M549.70,1143.75L564.95,1170.05L534.45,1170.05Z M549.70,1149.73L559.74,1167.05L539.66,1167.05Z" fill="#8fa9c9" fill-rule="evenodd" fill-opacity="1"/>
<path d="M621.90,1092.95L637.15,1119.25L606.65,1119.25Z M621.90,1098.93L631.94,1116.25L611.86,1116.25Z" fill="#8fa9c9" fill-rule="evenodd" fill-opacity="1"/>
<path d="M642.60,1081.85L657.85,1108.15L627.35,1108.15Z M642.60,1087.83L652.64,1105.15L632.56,1105.15Z" fill="#8fa9c9" fill-rule="evenodd" fill-opacity="1"/>
<path d="M667.00,1053.55L682.25,1079.85L651.75,1079.85Z M667.00,1059.53L677.04,1076.85L656.96,1076.85Z" fill="#8fa9c9" fill-rule="evenodd" fill-opacity="1"/>
<path d="M673.90,1051.95L689.15,1078.25L658.65,1078.25Z M673.90,1057.93L683.94,1075.25L663.86,1075.25Z" fill="#8fa9c9" fill-rule="evenodd" fill-opacity="1"/>
<path d="M725.20,1018.30L740.45,1044.60L709.95,1044.60Z M725.20,1024.28L735.24,1041.60L715.16,1041.60Z" fill="#8fa9c9" fill-rule="evenodd" fill-opacity="1"/>
<path d="M796.00,1021.45L811.25,1047.75L780.75,1047.75Z M796.00,1027.43L806.04,1044.75L785.96,1044.75Z" fill="#8fa9c9" fill-rule="evenodd" fill-opacity="1"/>
<path d="M929.70,884.40L944.95,910.70L914.45,910.70Z M929.70,890.38L939.74,907.70L919.66,907.70Z" fill="#8fa9c9" fill-rule="evenodd" fill-opacity="1"/>
<path d="M932.00,883.50L947.25,909.80L916.75,909.80Z M932.00,889.48L942.04,906.80L921.96,906.80Z" fill="#8fa9c9" fill-rule="evenodd" fill-opacity="1"/>
<circle cx="460.20" cy="1200.20" r="12.30" fill="none" stroke="#10967b" stroke-width="3.6" stroke-opacity="1"/>
<circle cx="489.40" cy="1199.90" r="12.30" fill="none" stroke="#10967b" stroke-width="3.6" stroke-opacity="1"/>
<circle cx="491.70" cy="1211.90" r="12.30" fill="none" stroke="#10967b" stroke-width="3.6" stroke-opacity="1"/>
<circle cx="515.10" cy="1194.50" r="12.30" fill="none" stroke="#10967b" stroke-width="3.6" stroke-opacity="1"/>
<circle cx="511.00" cy="1172.90" r="12.30" fill="none" stroke="#10967b" stroke-width="3.6" stroke-opacity="1"/>
<circle cx="563.20" cy="1141.90" r="12.30" fill="none" stroke="#10967b" stroke-width="3.6" stroke-opacity="1"/>
<circle cx="565.00" cy="1151.30" r="12.30" fill="none" stroke="#10967b" stroke-width="3.6" stroke-opacity="1"/>
<path d="M174.45,865.6H1276.4V1491.4H174.45Z" fill="none" stroke="#231f20" stroke-width="2.7"/>
<line x1="948.60" y1="865.60" x2="948.60" y2="1491.40" stroke="#231f20" stroke-width="2.7" />
<line x1="174.45" y1="1479.10" x2="185.45" y2="1479.10" stroke="#231f20" stroke-width="2.4" />
<line x1="938.20" y1="1479.10" x2="959.00" y2="1479.10" stroke="#231f20" stroke-width="2.4" />
<line x1="1265.90" y1="1479.10" x2="1276.40" y2="1479.10" stroke="#231f20" stroke-width="2.4" />
<line x1="174.45" y1="1456.67" x2="180.45" y2="1456.67" stroke="#231f20" stroke-width="2.4" />
<line x1="942.60" y1="1456.67" x2="954.60" y2="1456.67" stroke="#231f20" stroke-width="2.4" />
<line x1="1270.40" y1="1456.67" x2="1276.40" y2="1456.67" stroke="#231f20" stroke-width="2.4" />
<line x1="174.45" y1="1434.24" x2="180.45" y2="1434.24" stroke="#231f20" stroke-width="2.4" />
<line x1="942.60" y1="1434.24" x2="954.60" y2="1434.24" stroke="#231f20" stroke-width="2.4" />
<line x1="1270.40" y1="1434.24" x2="1276.40" y2="1434.24" stroke="#231f20" stroke-width="2.4" />
<line x1="174.45" y1="1411.82" x2="180.45" y2="1411.82" stroke="#231f20" stroke-width="2.4" />
<line x1="942.60" y1="1411.82" x2="954.60" y2="1411.82" stroke="#231f20" stroke-width="2.4" />
<line x1="1270.40" y1="1411.82" x2="1276.40" y2="1411.82" stroke="#231f20" stroke-width="2.4" />
<line x1="174.45" y1="1389.39" x2="180.45" y2="1389.39" stroke="#231f20" stroke-width="2.4" />
<line x1="942.60" y1="1389.39" x2="954.60" y2="1389.39" stroke="#231f20" stroke-width="2.4" />
<line x1="1270.40" y1="1389.39" x2="1276.40" y2="1389.39" stroke="#231f20" stroke-width="2.4" />
<line x1="174.45" y1="1366.96" x2="185.45" y2="1366.96" stroke="#231f20" stroke-width="2.4" />
<line x1="938.20" y1="1366.96" x2="959.00" y2="1366.96" stroke="#231f20" stroke-width="2.4" />
<line x1="1265.90" y1="1366.96" x2="1276.40" y2="1366.96" stroke="#231f20" stroke-width="2.4" />
<line x1="174.45" y1="1344.53" x2="180.45" y2="1344.53" stroke="#231f20" stroke-width="2.4" />
<line x1="942.60" y1="1344.53" x2="954.60" y2="1344.53" stroke="#231f20" stroke-width="2.4" />
<line x1="1270.40" y1="1344.53" x2="1276.40" y2="1344.53" stroke="#231f20" stroke-width="2.4" />
<line x1="174.45" y1="1322.10" x2="180.45" y2="1322.10" stroke="#231f20" stroke-width="2.4" />
<line x1="942.60" y1="1322.10" x2="954.60" y2="1322.10" stroke="#231f20" stroke-width="2.4" />
<line x1="1270.40" y1="1322.10" x2="1276.40" y2="1322.10" stroke="#231f20" stroke-width="2.4" />
<line x1="174.45" y1="1299.68" x2="180.45" y2="1299.68" stroke="#231f20" stroke-width="2.4" />
<line x1="942.60" y1="1299.68" x2="954.60" y2="1299.68" stroke="#231f20" stroke-width="2.4" />
<line x1="1270.40" y1="1299.68" x2="1276.40" y2="1299.68" stroke="#231f20" stroke-width="2.4" />
<line x1="174.45" y1="1277.25" x2="180.45" y2="1277.25" stroke="#231f20" stroke-width="2.4" />
<line x1="942.60" y1="1277.25" x2="954.60" y2="1277.25" stroke="#231f20" stroke-width="2.4" />
<line x1="1270.40" y1="1277.25" x2="1276.40" y2="1277.25" stroke="#231f20" stroke-width="2.4" />
<line x1="174.45" y1="1254.82" x2="185.45" y2="1254.82" stroke="#231f20" stroke-width="2.4" />
<line x1="938.20" y1="1254.82" x2="959.00" y2="1254.82" stroke="#231f20" stroke-width="2.4" />
<line x1="1265.90" y1="1254.82" x2="1276.40" y2="1254.82" stroke="#231f20" stroke-width="2.4" />
<line x1="174.45" y1="1232.39" x2="180.45" y2="1232.39" stroke="#231f20" stroke-width="2.4" />
<line x1="942.60" y1="1232.39" x2="954.60" y2="1232.39" stroke="#231f20" stroke-width="2.4" />
<line x1="1270.40" y1="1232.39" x2="1276.40" y2="1232.39" stroke="#231f20" stroke-width="2.4" />
<line x1="174.45" y1="1209.96" x2="180.45" y2="1209.96" stroke="#231f20" stroke-width="2.4" />
<line x1="942.60" y1="1209.96" x2="954.60" y2="1209.96" stroke="#231f20" stroke-width="2.4" />
<line x1="1270.40" y1="1209.96" x2="1276.40" y2="1209.96" stroke="#231f20" stroke-width="2.4" />
<line x1="174.45" y1="1187.54" x2="180.45" y2="1187.54" stroke="#231f20" stroke-width="2.4" />
<line x1="942.60" y1="1187.54" x2="954.60" y2="1187.54" stroke="#231f20" stroke-width="2.4" />
<line x1="1270.40" y1="1187.54" x2="1276.40" y2="1187.54" stroke="#231f20" stroke-width="2.4" />
<line x1="174.45" y1="1165.11" x2="180.45" y2="1165.11" stroke="#231f20" stroke-width="2.4" />
<line x1="942.60" y1="1165.11" x2="954.60" y2="1165.11" stroke="#231f20" stroke-width="2.4" />
<line x1="1270.40" y1="1165.11" x2="1276.40" y2="1165.11" stroke="#231f20" stroke-width="2.4" />
<line x1="174.45" y1="1142.68" x2="185.45" y2="1142.68" stroke="#231f20" stroke-width="2.4" />
<line x1="938.20" y1="1142.68" x2="959.00" y2="1142.68" stroke="#231f20" stroke-width="2.4" />
<line x1="1265.90" y1="1142.68" x2="1276.40" y2="1142.68" stroke="#231f20" stroke-width="2.4" />
<line x1="174.45" y1="1120.25" x2="180.45" y2="1120.25" stroke="#231f20" stroke-width="2.4" />
<line x1="942.60" y1="1120.25" x2="954.60" y2="1120.25" stroke="#231f20" stroke-width="2.4" />
<line x1="1270.40" y1="1120.25" x2="1276.40" y2="1120.25" stroke="#231f20" stroke-width="2.4" />
<line x1="174.45" y1="1097.82" x2="180.45" y2="1097.82" stroke="#231f20" stroke-width="2.4" />
<line x1="942.60" y1="1097.82" x2="954.60" y2="1097.82" stroke="#231f20" stroke-width="2.4" />
<line x1="1270.40" y1="1097.82" x2="1276.40" y2="1097.82" stroke="#231f20" stroke-width="2.4" />
<line x1="174.45" y1="1075.40" x2="180.45" y2="1075.40" stroke="#231f20" stroke-width="2.4" />
<line x1="942.60" y1="1075.40" x2="954.60" y2="1075.40" stroke="#231f20" stroke-width="2.4" />
<line x1="1270.40" y1="1075.40" x2="1276.40" y2="1075.40" stroke="#231f20" stroke-width="2.4" />
<line x1="174.45" y1="1052.97" x2="180.45" y2="1052.97" stroke="#231f20" stroke-width="2.4" />
<line x1="942.60" y1="1052.97" x2="954.60" y2="1052.97" stroke="#231f20" stroke-width="2.4" />
<line x1="1270.40" y1="1052.97" x2="1276.40" y2="1052.97" stroke="#231f20" stroke-width="2.4" />
<line x1="174.45" y1="1030.54" x2="185.45" y2="1030.54" stroke="#231f20" stroke-width="2.4" />
<line x1="938.20" y1="1030.54" x2="959.00" y2="1030.54" stroke="#231f20" stroke-width="2.4" />
<line x1="1265.90" y1="1030.54" x2="1276.40" y2="1030.54" stroke="#231f20" stroke-width="2.4" />
<line x1="174.45" y1="1008.11" x2="180.45" y2="1008.11" stroke="#231f20" stroke-width="2.4" />
<line x1="942.60" y1="1008.11" x2="954.60" y2="1008.11" stroke="#231f20" stroke-width="2.4" />
<line x1="1270.40" y1="1008.11" x2="1276.40" y2="1008.11" stroke="#231f20" stroke-width="2.4" />
<line x1="174.45" y1="985.68" x2="180.45" y2="985.68" stroke="#231f20" stroke-width="2.4" />
<line x1="942.60" y1="985.68" x2="954.60" y2="985.68" stroke="#231f20" stroke-width="2.4" />
<line x1="1270.40" y1="985.68" x2="1276.40" y2="985.68" stroke="#231f20" stroke-width="2.4" />
<line x1="174.45" y1="963.26" x2="180.45" y2="963.26" stroke="#231f20" stroke-width="2.4" />
<line x1="942.60" y1="963.26" x2="954.60" y2="963.26" stroke="#231f20" stroke-width="2.4" />
<line x1="1270.40" y1="963.26" x2="1276.40" y2="963.26" stroke="#231f20" stroke-width="2.4" />
<line x1="174.45" y1="940.83" x2="180.45" y2="940.83" stroke="#231f20" stroke-width="2.4" />
<line x1="942.60" y1="940.83" x2="954.60" y2="940.83" stroke="#231f20" stroke-width="2.4" />
<line x1="1270.40" y1="940.83" x2="1276.40" y2="940.83" stroke="#231f20" stroke-width="2.4" />
<line x1="174.45" y1="918.40" x2="185.45" y2="918.40" stroke="#231f20" stroke-width="2.4" />
<line x1="938.20" y1="918.40" x2="959.00" y2="918.40" stroke="#231f20" stroke-width="2.4" />
<line x1="1265.90" y1="918.40" x2="1276.40" y2="918.40" stroke="#231f20" stroke-width="2.4" />
<line x1="174.45" y1="895.97" x2="180.45" y2="895.97" stroke="#231f20" stroke-width="2.4" />
<line x1="942.60" y1="895.97" x2="954.60" y2="895.97" stroke="#231f20" stroke-width="2.4" />
<line x1="1270.40" y1="895.97" x2="1276.40" y2="895.97" stroke="#231f20" stroke-width="2.4" />
<line x1="174.45" y1="873.54" x2="180.45" y2="873.54" stroke="#231f20" stroke-width="2.4" />
<line x1="942.60" y1="873.54" x2="954.60" y2="873.54" stroke="#231f20" stroke-width="2.4" />
<line x1="1270.40" y1="873.54" x2="1276.40" y2="873.54" stroke="#231f20" stroke-width="2.4" />
<line x1="181.11" y1="1491.40" x2="181.11" y2="1485.60" stroke="#231f20" stroke-width="2.4" />
<line x1="181.11" y1="865.60" x2="181.11" y2="871.40" stroke="#231f20" stroke-width="2.4" />
<line x1="209.10" y1="1491.40" x2="209.10" y2="1480.60" stroke="#231f20" stroke-width="2.4" />
<line x1="209.10" y1="865.60" x2="209.10" y2="876.40" stroke="#231f20" stroke-width="2.4" />
<line x1="237.09" y1="1491.40" x2="237.09" y2="1485.60" stroke="#231f20" stroke-width="2.4" />
<line x1="237.09" y1="865.60" x2="237.09" y2="871.40" stroke="#231f20" stroke-width="2.4" />
<line x1="265.08" y1="1491.40" x2="265.08" y2="1485.60" stroke="#231f20" stroke-width="2.4" />
<line x1="265.08" y1="865.60" x2="265.08" y2="871.40" stroke="#231f20" stroke-width="2.4" />
<line x1="293.07" y1="1491.40" x2="293.07" y2="1485.60" stroke="#231f20" stroke-width="2.4" />
<line x1="293.07" y1="865.60" x2="293.07" y2="871.40" stroke="#231f20" stroke-width="2.4" />
<line x1="321.06" y1="1491.40" x2="321.06" y2="1485.60" stroke="#231f20" stroke-width="2.4" />
<line x1="321.06" y1="865.60" x2="321.06" y2="871.40" stroke="#231f20" stroke-width="2.4" />
<line x1="349.05" y1="1491.40" x2="349.05" y2="1480.60" stroke="#231f20" stroke-width="2.4" />
<line x1="349.05" y1="865.60" x2="349.05" y2="876.40" stroke="#231f20" stroke-width="2.4" />
<line x1="377.04" y1="1491.40" x2="377.04" y2="1485.60" stroke="#231f20" stroke-width="2.4" />
<line x1="377.04" y1="865.60" x2="377.04" y2="871.40" stroke="#231f20" stroke-width="2.4" />
<line x1="405.03" y1="1491.40" x2="405.03" y2="1485.60" stroke="#231f20" stroke-width="2.4" />
<line x1="405.03" y1="865.60" x2="405.03" y2="871.40" stroke="#231f20" stroke-width="2.4" />
<line x1="433.02" y1="1491.40" x2="433.02" y2="1485.60" stroke="#231f20" stroke-width="2.4" />
<line x1="433.02" y1="865.60" x2="433.02" y2="871.40" stroke="#231f20" stroke-width="2.4" />
<line x1="461.01" y1="1491.40" x2="461.01" y2="1485.60" stroke="#231f20" stroke-width="2.4" />
<line x1="461.01" y1="865.60" x2="461.01" y2="871.40" stroke="#231f20" stroke-width="2.4" />
<line x1="489.00" y1="1491.40" x2="489.00" y2="1480.60" stroke="#231f20" stroke-width="2.4" />
<line x1="489.00" y1="865.60" x2="489.00" y2="876.40" stroke="#231f20" stroke-width="2.4" />
<line x1="516.99" y1="1491.40" x2="516.99" y2="1485.60" stroke="#231f20" stroke-width="2.4" />
<line x1="516.99" y1="865.60" x2="516.99" y2="871.40" stroke="#231f20" stroke-width="2.4" />
<line x1="544.98" y1="1491.40" x2="544.98" y2="1485.60" stroke="#231f20" stroke-width="2.4" />
<line x1="544.98" y1="865.60" x2="544.98" y2="871.40" stroke="#231f20" stroke-width="2.4" />
<line x1="572.97" y1="1491.40" x2="572.97" y2="1485.60" stroke="#231f20" stroke-width="2.4" />
<line x1="572.97" y1="865.60" x2="572.97" y2="871.40" stroke="#231f20" stroke-width="2.4" />
<line x1="600.96" y1="1491.40" x2="600.96" y2="1485.60" stroke="#231f20" stroke-width="2.4" />
<line x1="600.96" y1="865.60" x2="600.96" y2="871.40" stroke="#231f20" stroke-width="2.4" />
<line x1="628.95" y1="1491.40" x2="628.95" y2="1480.60" stroke="#231f20" stroke-width="2.4" />
<line x1="628.95" y1="865.60" x2="628.95" y2="876.40" stroke="#231f20" stroke-width="2.4" />
<line x1="656.94" y1="1491.40" x2="656.94" y2="1485.60" stroke="#231f20" stroke-width="2.4" />
<line x1="656.94" y1="865.60" x2="656.94" y2="871.40" stroke="#231f20" stroke-width="2.4" />
<line x1="684.93" y1="1491.40" x2="684.93" y2="1485.60" stroke="#231f20" stroke-width="2.4" />
<line x1="684.93" y1="865.60" x2="684.93" y2="871.40" stroke="#231f20" stroke-width="2.4" />
<line x1="712.92" y1="1491.40" x2="712.92" y2="1485.60" stroke="#231f20" stroke-width="2.4" />
<line x1="712.92" y1="865.60" x2="712.92" y2="871.40" stroke="#231f20" stroke-width="2.4" />
<line x1="740.91" y1="1491.40" x2="740.91" y2="1485.60" stroke="#231f20" stroke-width="2.4" />
<line x1="740.91" y1="865.60" x2="740.91" y2="871.40" stroke="#231f20" stroke-width="2.4" />
<line x1="768.90" y1="1491.40" x2="768.90" y2="1480.60" stroke="#231f20" stroke-width="2.4" />
<line x1="768.90" y1="865.60" x2="768.90" y2="876.40" stroke="#231f20" stroke-width="2.4" />
<line x1="796.89" y1="1491.40" x2="796.89" y2="1485.60" stroke="#231f20" stroke-width="2.4" />
<line x1="796.89" y1="865.60" x2="796.89" y2="871.40" stroke="#231f20" stroke-width="2.4" />
<line x1="824.88" y1="1491.40" x2="824.88" y2="1485.60" stroke="#231f20" stroke-width="2.4" />
<line x1="824.88" y1="865.60" x2="824.88" y2="871.40" stroke="#231f20" stroke-width="2.4" />
<line x1="852.87" y1="1491.40" x2="852.87" y2="1485.60" stroke="#231f20" stroke-width="2.4" />
<line x1="852.87" y1="865.60" x2="852.87" y2="871.40" stroke="#231f20" stroke-width="2.4" />
<line x1="880.86" y1="1491.40" x2="880.86" y2="1485.60" stroke="#231f20" stroke-width="2.4" />
<line x1="880.86" y1="865.60" x2="880.86" y2="871.40" stroke="#231f20" stroke-width="2.4" />
<line x1="908.85" y1="1491.40" x2="908.85" y2="1480.60" stroke="#231f20" stroke-width="2.4" />
<line x1="908.85" y1="865.60" x2="908.85" y2="876.40" stroke="#231f20" stroke-width="2.4" />
<line x1="936.84" y1="1491.40" x2="936.84" y2="1485.60" stroke="#231f20" stroke-width="2.4" />
<line x1="936.84" y1="865.60" x2="936.84" y2="871.40" stroke="#231f20" stroke-width="2.4" />
<text x="68.40" y="927.10" font-size="51">250</text>
<text x="68.40" y="1038.50" font-size="51">200</text>
<text x="68.70" y="1151.30" font-size="51">150</text>
<text x="68.70" y="1263.00" font-size="51">100</text>
<text x="88.76" y="1374.80" font-size="51">50</text>
<text x="104.23" y="1486.60" font-size="51">0</text>
<text x="173.37" y="1544.50" font-size="51">2.0</text>
<text x="313.39" y="1544.50" font-size="51">2.5</text>
<text x="453.58" y="1544.50" font-size="51">3.0</text>
<text x="593.60" y="1544.50" font-size="51">3.5</text>
<text x="733.86" y="1544.50" font-size="51">4.0</text>
<text x="873.89" y="1544.50" font-size="51">4.5</text>
<text x="284.48" y="1605.30" font-size="51" >Strain</text>
<text x="429.83" y="1605.30" font-size="51" >at</text>
<text x="485.91" y="1605.30" font-size="51" >break</text>
<text x="628.26" y="1605.30" font-size="51" >[</text>
<text x="641.41" y="1605.30" font-size="51" >mm</text>
<text x="725.70" y="1605.30" font-size="51" >/</text>
<text x="740.41" y="1605.30" font-size="51" >mm</text>
<text x="825.10" y="1605.30" font-size="51" >]</text>
<g transform="translate(39.0,1375.9) rotate(-90)"><text x="-1.15" y="0" font-size="51">Toughness</text><text x="264.06" y="0" font-size="51">[kJ/m</text><text x="402.50" y="0" font-size="51">]</text><text transform="scale(1.15,1)" x="335.08" y="-17.7" font-size="26.5" stroke="#231f20" stroke-width="0.5">3</text></g>
<path d="M671.50,1197.00L687.00,1224.00L656.00,1224.00Z M671.50,1204.23L680.78,1220.40L662.22,1220.40Z" fill="#0e5078" fill-rule="evenodd" fill-opacity="1"/>
<rect x="658.90" y="1264.80" width="25.40" height="25.40" fill="none" stroke="#79797b" stroke-width="3.2" stroke-opacity="1"/>
<path d="M671.60,1353.00L687.10,1326.00L656.10,1326.00Z M671.60,1346.17L681.23,1329.40L661.97,1329.40Z" fill="#d4843a" fill-rule="evenodd" fill-opacity="1"/>
<circle cx="672.50" cy="1400.00" r="12.95" fill="none" stroke="#129a7f" stroke-width="3.3" stroke-opacity="1"/>
<text x="703.11" y="1232.60" font-size="51" >CB-C2</text>
<text x="703.11" y="1294.40" font-size="51" >Control</text>
<text x="703.11" y="1356.40" font-size="51" >CB-C1</text>
<text x="703.11" y="1416.60" font-size="51" >CB-ether</text>
</svg></body></html>
